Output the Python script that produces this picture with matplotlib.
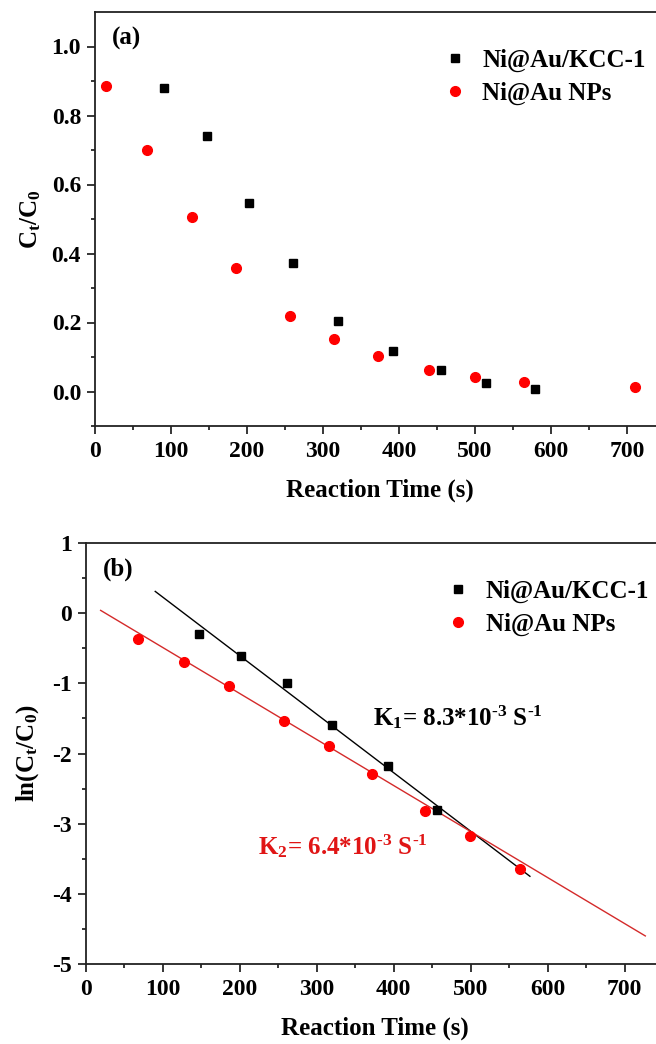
import matplotlib
matplotlib.use("Agg")
import matplotlib.pyplot as plt

# panel (a): Ct/C0 vs time
t_kcc_a = [91, 147, 202, 261, 320, 392, 455, 515, 579]
c_kcc_a = [0.881, 0.742, 0.545, 0.372, 0.205, 0.116, 0.061, 0.024, 0.007]
t_nps_a = [15, 68, 127, 186, 257, 315, 372, 440, 500, 564, 710]
c_nps_a = [0.885, 0.699, 0.506, 0.357, 0.219, 0.153, 0.103, 0.061, 0.043, 0.027, 0.014]

# panel (b): ln(Ct/C0) vs time
t_kcc_b = [147, 201, 261, 320, 392, 456]
ln_kcc_b = [-0.30, -0.61, -0.99, -1.59, -2.18, -2.81]
t_nps_b = [68, 127, 186, 257, 316, 372, 440, 499, 564]
ln_nps_b = [-0.37, -0.69, -1.04, -1.53, -1.90, -2.29, -2.82, -3.18, -3.65]

# fitted lines (end points)
fit_kcc_t = [90, 577]
fit_kcc_y = [0.31, -3.75]
fit_nps_t = [19, 727]
fit_nps_y = [0.04, -4.60]

labels = ["Ni@Au/KCC-1", "Ni@Au NPs"]

plt.rcParams["font.family"] = ["Liberation Serif", "DejaVu Serif"]
plt.rcParams["font.weight"] = "bold"
plt.rcParams["axes.labelweight"] = "bold"
plt.rcParams["mathtext.fontset"] = "custom"
plt.rcParams["mathtext.rm"] = "Liberation Serif:bold"
plt.rcParams["mathtext.it"] = "Liberation Serif:italic:bold"
plt.rcParams["mathtext.bf"] = "Liberation Serif:bold"
plt.rcParams["mathtext.default"] = "rm"
plt.rcParams["axes.unicode_minus"] = False

RED = "#ff0000"
LINE_RED = "#d42a2a"
TEXT_RED = "#e01515"

fig = plt.figure(figsize=(6.56, 10.44), dpi=100)
ax1 = fig.add_axes([95 / 656, 1 - 426 / 1044, 570 / 656, 414 / 1044])
ax2 = fig.add_axes([86 / 656, 1 - 964 / 1044, 577 / 656, 421 / 1044])


def style(ax):
    for s in ax.spines.values():
        s.set_linewidth(1.3)
        s.set_color("#222222")
    ax.spines["right"].set_visible(False)
    ax.tick_params(which="major", direction="out", length=6, width=1.1,
                   labelsize=17, pad=4)
    ax.tick_params(axis="x", which="major", pad=5)
    ax.tick_params(which="minor", direction="out", length=3, width=1.1)
    ax.set_xlim(0, 750)
    ax.set_xticks(range(0, 800, 100))
    ax.set_xticks(range(50, 800, 100), minor=True)
    ax.set_xlabel("Reaction Time (s)", fontsize=18, labelpad=12)


# ---- (a)
ax1.plot(t_kcc_a, c_kcc_a, "s", color="black", ms=6, label=labels[0])
ax1.plot(t_nps_a, c_nps_a, "o", color=RED, ms=7, label=labels[1])
style(ax1)
ax1.set_ylim(-0.1, 1.1)
ax1.set_yticks([0.0, 0.2, 0.4, 0.6, 0.8, 1.0])
ax1.set_yticks([-0.1, 0.1, 0.3, 0.5, 0.7, 0.9], minor=True)
ax1.set_yticklabels(["0.0", "0.2", "0.4", "0.6", "0.8", "1.0"])
ax1.set_ylabel("C$_t$/C$_0$", fontsize=18, labelpad=6)
ax1.text(0.03, 0.937, "(a)", transform=ax1.transAxes, fontsize=18,
         fontweight="bold", ha="left", va="center")
ax1.legend(loc="upper left", bbox_to_anchor=(0.574, 0.966), frameon=False,
           fontsize=18, handlelength=0.8, handletextpad=0.7,
           labelspacing=0.4, numpoints=1, borderpad=0.4)

# ---- (b)
ax2.plot(fit_kcc_t, fit_kcc_y, "-", color="black", lw=1.0)
ax2.plot(fit_nps_t, fit_nps_y, "-", color=LINE_RED, lw=1.0)
ax2.plot(t_kcc_b, ln_kcc_b, "s", color="black", ms=6, label=labels[0])
ax2.plot(t_nps_b, ln_nps_b, "o", color=RED, ms=7, label=labels[1])
style(ax2)
ax2.set_ylim(-5, 1)
ax2.set_yticks(range(-5, 2))
ax2.set_yticks([-4.5, -3.5, -2.5, -1.5, -0.5, 0.5], minor=True)
ax2.set_ylabel("ln(C$_t$/C$_0$)", fontsize=18, labelpad=8)
ax2.text(0.029, 0.938, "(b)", transform=ax2.transAxes, fontsize=18,
         fontweight="bold", ha="left", va="center")
ax2.text(373, -1.605, r"K$_1$= 8.3*10$^{\text{-3}}$ S$^{\text{-1}}$",
         fontsize=18, color="black", ha="left", va="baseline")
ax2.text(223, -3.44, r"K$_2$= 6.4*10$^{\text{-3}}$ S$^{\text{-1}}$",
         fontsize=18, color=TEXT_RED, ha="left", va="baseline")
ax2.legend(loc="upper left", bbox_to_anchor=(0.589, 0.966), frameon=False,
           fontsize=18, handlelength=0.8, handletextpad=0.7,
           labelspacing=0.4, numpoints=1, borderpad=0.4)

fig.savefig("out.png", dpi=100)
